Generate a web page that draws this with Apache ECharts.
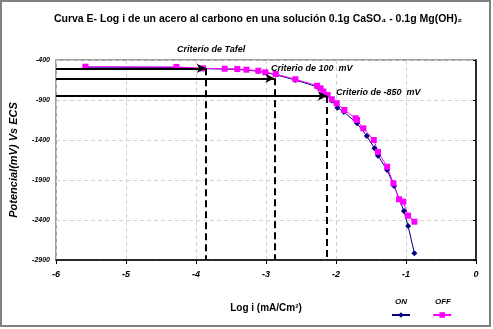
<!DOCTYPE html>
<html><head><meta charset="utf-8">
<script src="https://cdn.jsdelivr.net/npm/echarts@6/dist/echarts.min.js"></script>
<style>html,body{margin:0;padding:0;background:#fff}#c{width:493px;height:329px}</style>
</head><body><div id="c"></div>
<script>
// Data
const onLogI = [-5.58,-4.28,-3.90,-3.41,-3.11,-2.86,-2.58,-2.27,-2.18,-2.06,-1.98,-1.89,-1.70,-1.56,-1.45,-1.40,-1.27,-1.17,-1.03,-0.97,-0.88];
const onE    = [-490,-492,-508,-518,-540,-585,-650,-735,-810,-905,-996,-1046,-1191,-1350,-1504,-1596,-1775,-1975,-2288,-2475,-2816];
const offLogI = [-5.58,-4.28,-3.90,-3.59,-3.41,-3.28,-3.11,-3.01,-2.86,-2.58,-2.27,-2.22,-2.18,-2.12,-2.06,-1.99,-1.88,-1.72,-1.70,-1.61,-1.46,-1.40,-1.27,-1.18,-1.10,-1.04,-0.97,-0.88];
const offE    = [-484,-487,-504,-509,-512,-521,-534,-554,-575,-641,-721,-754,-796,-838,-891,-941,-1025,-1129,-1150,-1254,-1400,-1550,-1734,-1941,-2141,-2171,-2346,-2421];
const critX = [-3.86, -2.88, -2.13];
const critE = [-504, -629, -850];
const critNames = ['Criterio de Tafel', 'Criterio de 100  mV', 'Criterio de -850  mV'];
const xTicks = [-6,-5,-4,-3,-2,-1,0];
const yTicks = [-400,-900,-1400,-1900,-2400,-2900];

const chart = echarts.init(document.getElementById('c'));
const font = '"Liberation Sans", Arial, sans-serif';
const zip = (a,b)=>a.map((v,i)=>[v,b[i]]);

const arrowLines = critX.map((x,i)=>[{coord:[-6,critE[i]], symbol:'none'},{coord:[x,critE[i]], symbol:'arrow', symbolSize:[7,9]}]);
const dashLines = critX.map((x,i)=>[{coord:[x,critE[i]]},{coord:[x,-2900]}]);

chart.setOption({
  animation:false,
  textStyle:{fontFamily:font},
  title:{text:'Curva E- Log i de un acero al carbono en una solución 0.1g CaSO\u2084 - 0.1g Mg(OH)\u2082',
    left:253, top:9, textAlign:'center',
    textStyle:{fontSize:10.5, fontWeight:'bold', color:'#000', fontFamily:font}},
  grid:{left:55, right:17, top:60, bottom:69, show:true, borderColor:'#808080', borderWidth:1.5},
  xAxis:{type:'value', min:-6, max:0, interval:1,
    name:'Log i (mA/Cm\u00b2)', nameLocation:'middle', nameGap:43,
    nameTextStyle:{fontSize:10, fontWeight:'bold', color:'#000', fontFamily:font},
    axisLine:{lineStyle:{color:'#000', width:1.5}},
    axisTick:{show:true, length:4, lineStyle:{color:'#000'}},
    axisLabel:{fontSize:9, fontWeight:'bold', fontStyle:'italic', color:'#000', margin:10,
      formatter:v=>String(v)},
    splitLine:{show:true, lineStyle:{color:'#d0d0d0', type:[4,3], width:1}}},
  yAxis:{type:'value', min:-2900, max:-400, interval:500,
    name:'Potencial(mV) Vs ECS', nameLocation:'middle', nameGap:37, nameRotate:90,
    nameTextStyle:{fontSize:11, fontWeight:'bold', fontStyle:'italic', color:'#000', fontFamily:font},
    axisLine:{show:true, lineStyle:{color:'#000', width:1.5}},
    axisTick:{show:true, length:3, lineStyle:{color:'#000'}},
    axisLabel:{fontSize:7, fontWeight:'bold', fontStyle:'italic', color:'#000', margin:6,
      formatter:v=>String(v)},
    splitLine:{show:true, lineStyle:{color:'#d0d0d0', type:[4,3], width:1}}},
  legend:{data:['ON','OFF'], left:386, top:306, itemGap:15, itemWidth:18, itemHeight:7,
    formatter:()=>' ', textStyle:{fontSize:8}},
  series:[
    {name:'guides', type:'line', data:[], silent:true,
      markLine:{silent:true, animation:false, label:{show:false},
        lineStyle:{color:'#000', width:2, type:'solid'},
        data:arrowLines}},
    {name:'dashes', type:'line', data:[], silent:true,
      markLine:{silent:true, animation:false, label:{show:false}, symbol:['none','none'],
        lineStyle:{color:'#000', width:2, type:[7,4]},
        data:dashLines}},
    {name:'ON', type:'line', data:zip(onLogI,onE), symbol:'diamond', symbolSize:6,
      itemStyle:{color:'#000080'}, lineStyle:{color:'#000080', width:1}},
    {name:'OFF', type:'line', data:zip(offLogI,offE), symbol:'rect', symbolSize:6,
      itemStyle:{color:'#ff00ff'}, lineStyle:{color:'#ff00ff', width:1}}
  ],
  graphic:[
    {type:'rect', shape:{x:1, y:1, width:489, height:325}, style:{fill:'none', stroke:'#808080', lineWidth:2}, silent:true},
    {type:'text', left:177, top:45, style:{text:critNames[0], font:'italic bold 9px '+font, fill:'#000'}},
    {type:'text', left:271, top:64, style:{text:critNames[1], font:'italic bold 9px '+font, fill:'#000'}},
    {type:'text', left:336, top:88, style:{text:critNames[2], font:'italic bold 9px '+font, fill:'#000'}},
    {type:'text', left:395, top:298, style:{text:'ON', font:'italic bold 8px '+font, fill:'#000'}},
    {type:'text', left:435, top:298, style:{text:'OFF', font:'italic bold 8px '+font, fill:'#000'}}
  ]
});
</script></body></html>
